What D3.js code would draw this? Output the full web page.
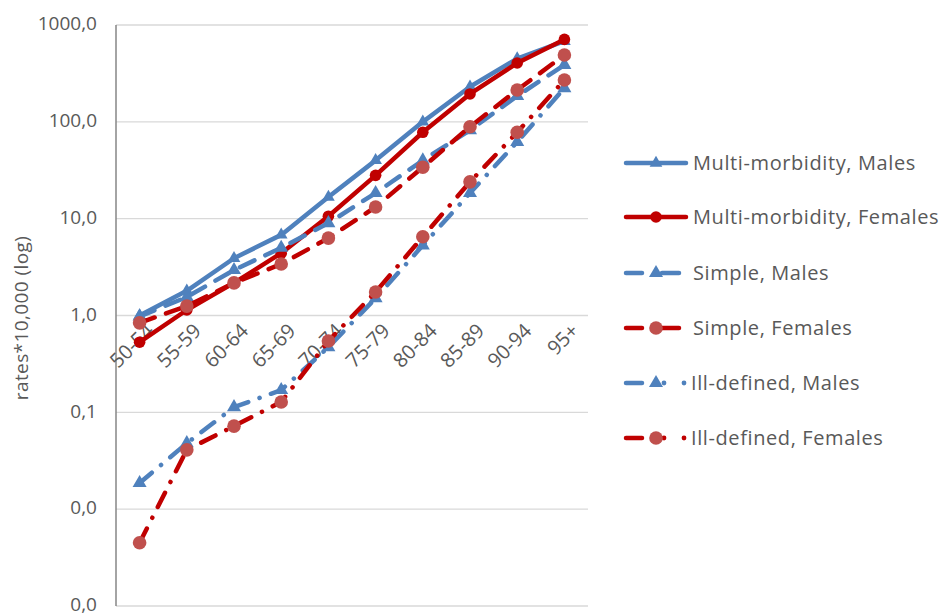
<!DOCTYPE html>
<html>
<head>
<meta charset="utf-8">
<script src="https://cdn.jsdelivr.net/npm/d3@7"></script>
<style>
  body { margin: 0; background: #fff; }
  text { font-family: "Open Sans", sans-serif; fill: #595959; }
</style>
</head>
<body>
<div id="chart"></div>
<script>
var ageGroups = ['50-54', '55-59', '60-64', '65-69', '70-74', '75-79', '80-84', '85-89', '90-94', '95+'];

var multiMales    = [1.0, 1.8, 3.9, 6.8, 16.7, 40, 100, 230, 450, 680];
var multiFemales  = [0.53, 1.14, 2.17, 4.4, 10.6, 28, 78, 194, 405, 710];
var simpleMales   = [0.98, 1.55, 2.95, 5.0, 9.0, 18.4, 40, 82, 185, 387];
var simpleFemales = [0.84, 1.25, 2.17, 3.4, 6.3, 13.2, 34, 89, 213, 490];
var illMales      = [0.0186, 0.048, 0.113, 0.17, 0.47, 1.51, 5.3, 18.4, 62, 223];
var illFemales    = [0.0045, 0.041, 0.072, 0.128, 0.545, 1.75, 6.5, 24, 78, 270];

var yTicks = [0.001, 0.01, 0.1, 1, 10, 100, 1000];

var blue = '#4F81BD', red = '#C00000', lightRed = '#C0504D';

var series = [
    { name: 'Multi-morbidity, Males',   values: multiMales,    color: blue, marker: 'triangle', mcolor: blue,     dash: null,           mr: 70 },
    { name: 'Multi-morbidity, Females', values: multiFemales,  color: red,  marker: 'circle',   mcolor: red,      dash: null,           mr: 5.8 },
    { name: 'Simple, Males',            values: simpleMales,   color: blue, marker: 'triangle', mcolor: blue,     dash: '16 12',        mr: 85 },
    { name: 'Simple, Females',          values: simpleFemales, color: red,  marker: 'circle',   mcolor: lightRed, dash: '16 12',        mr: 6.8 },
    { name: 'Ill-defined, Males',       values: illMales,      color: blue, marker: 'triangle', mcolor: blue,     dash: '16 12 0.1 12', mr: 85 },
    { name: 'Ill-defined, Females',     values: illFemales,    color: red,  marker: 'circle',   mcolor: lightRed, dash: '16 12 0.1 12', mr: 6.8 }
];

var width = 945, height = 616;
var margin = { top: 25, left: 116, right: 357, bottom: 10 };

var svg = d3.select('#chart').append('svg')
    .attr('width', width)
    .attr('height', height);

var x = d3.scaleBand()
    .domain(ageGroups)
    .range([margin.left, width - margin.right]);

var y = d3.scaleLog()
    .domain([0.001, 1000])
    .range([606, margin.top]);

var fmt = function(v) {
    return d3.format('.1f')(v).replace('.', ',');
};

// gridlines
svg.append('g')
    .selectAll('line')
    .data(yTicks)
    .enter()
    .append('line')
    .attr('x1', margin.left)
    .attr('x2', width - margin.right)
    .attr('y1', function(d) { return y(d); })
    .attr('y2', function(d) { return y(d); })
    .attr('stroke', '#D9D9D9')
    .attr('stroke-width', 1.3);

// y axis line
svg.append('line')
    .attr('x1', margin.left).attr('x2', margin.left)
    .attr('y1', y(1000)).attr('y2', y(0.001))
    .attr('stroke', '#868686')
    .attr('stroke-width', 1.5);

// y tick labels
svg.append('g')
    .selectAll('text')
    .data(yTicks)
    .enter()
    .append('text')
    .attr('x', 97)
    .attr('y', function(d) { return y(d); })
    .attr('dy', '0.28em')
    .attr('text-anchor', 'end')
    .style('font-size', '19px')
    .text(fmt);

// y axis title
svg.append('text')
    .attr('transform', 'translate(28,' + 318 + ') rotate(-90)')
    .attr('text-anchor', 'middle')
    .style('font-size', '19px')
    .style('letter-spacing', '0.4px')
    .text('rates*10,000 (log)');

// category labels, axis crosses at 1,0
svg.append('g')
    .selectAll('text')
    .data(ageGroups)
    .enter()
    .append('text')
    .attr('transform', function(d) {
        return 'translate(' + (x(d) + x.bandwidth() / 2 + 5) + ',' + (y(1) + 6) + ') rotate(-45)';
    })
    .attr('text-anchor', 'end')
    .attr('dy', '0.75em')
    .style('font-size', '20px')
    .text(function(d) { return d; });

var line = d3.line()
    .x(function(d, j) { return x(ageGroups[j]) + x.bandwidth() / 2; })
    .y(function(d) { return y(d); });

function drawMarker(g, s, cx, cy) {
    if (s.marker === 'circle') {
        g.append('circle')
            .attr('cx', cx).attr('cy', cy)
            .attr('r', s.mr)
            .attr('fill', s.mcolor);
    } else {
        g.append('path')
            .attr('d', d3.symbol().type(d3.symbolTriangle).size(s.mr)())
            .attr('transform', 'translate(' + cx + ',' + cy + ')')
            .attr('fill', s.mcolor);
    }
}

series.forEach(function(s) {
    var g = svg.append('g');
    g.append('path')
        .datum(s.values)
        .attr('d', line)
        .attr('fill', 'none')
        .attr('stroke', s.color)
        .attr('stroke-width', 4.5)
        .attr('stroke-linecap', 'round')
        .attr('stroke-linejoin', 'round')
        .attr('stroke-dasharray', s.dash);
    s.values.forEach(function(v, j) {
        drawMarker(g, s, x(ageGroups[j]) + x.bandwidth() / 2, y(v));
    });
});

// legend
var legend = svg.append('g');
var legendY = [163, 217, 273, 328, 383, 438];
series.forEach(function(s, k) {
    var row = legend.append('g').attr('transform', 'translate(0,' + legendY[k] + ')');
    if (s.dash === null) {
        row.append('line')
            .attr('x1', 626).attr('x2', 686)
            .attr('stroke', s.color).attr('stroke-width', 4.5)
            .attr('stroke-linecap', 'round');
    } else if (s.dash === '16 12') {
        row.append('line').attr('x1', 626).attr('x2', 642)
            .attr('stroke', s.color).attr('stroke-width', 4.5).attr('stroke-linecap', 'round');
        row.append('line').attr('x1', 662).attr('x2', 679)
            .attr('stroke', s.color).attr('stroke-width', 4.5).attr('stroke-linecap', 'round');
    } else {
        row.append('line').attr('x1', 626).attr('x2', 642)
            .attr('stroke', s.color).attr('stroke-width', 4.5).attr('stroke-linecap', 'round');
        row.append('circle').attr('cx', 664).attr('cy', 0).attr('r', 2.4).attr('fill', s.color);
        row.append('circle').attr('cx', 684).attr('cy', 0).attr('r', 2.4).attr('fill', s.color);
    }
    drawMarker(row, s, 656, 0);
    row.append('text')
        .attr('x', s.dash === '16 12 0.1 12' ? 691 : 693)
        .attr('dy', '0.35em')
        .style('font-size', '20px')
        .style('letter-spacing', '0.6px')
        .text(s.name);
});
</script>
</body>
</html>
